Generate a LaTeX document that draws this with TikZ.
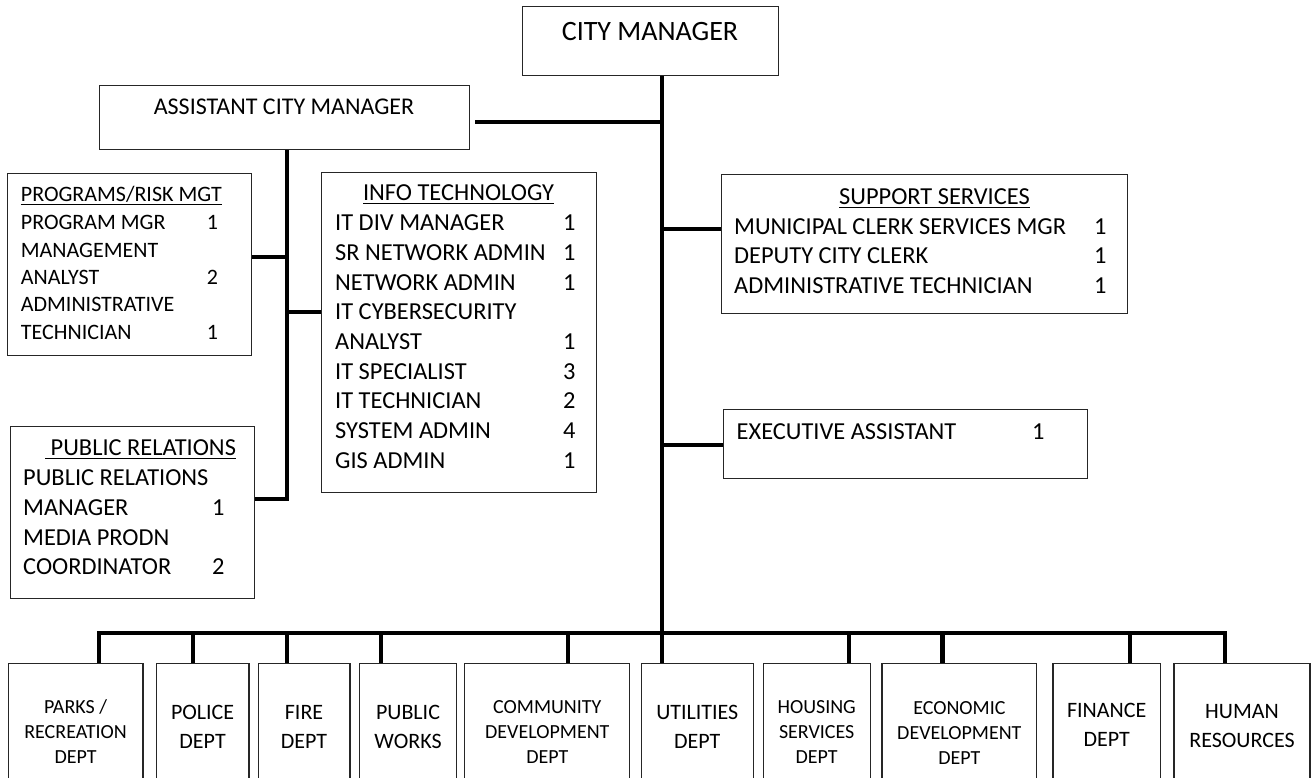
\documentclass[tikz,border=0pt]{standalone}
\usepackage{fontspec}
\setmainfont{Carlito}
\usepackage{array}
\newsavebox\hdrbox
% underlined heading with a rule a little below the baseline
\newcommand\hdrline[1]{\sbox\hdrbox{#1}\rlap{\rule[-3.5pt]{\wd\hdrbox}{1.5pt}}\usebox\hdrbox}
\tikzset{
  box/.style={draw=black!85, line width=1.2pt, rectangle, inner sep=0pt, anchor=north west},
  conn/.style={line width=4.5pt, black},
  txt/.style={inner sep=0pt, font=\fontsize{24.4}{29.7}\selectfont},
  small/.style={inner sep=0pt, font=\fontsize{20}{25}\selectfont},
  deptxt/.style={inner sep=0pt, font=\fontsize{22}{29}\selectfont, anchor=base},
}
\begin{document}
\begin{tikzpicture}[x=1pt,y=-1pt]
\clip (0,0) rectangle (1312,778);
\fill[white] (0,0) rectangle (1312,778);

% top management
\node[box, minimum width=256, minimum height=69] (city) at (522,6) {};
\node[inner sep=0pt, font=\fontsize{28}{34}\selectfont, anchor=base] (citytxt) at (650,40.5) {CITY MANAGER};
\node[box, minimum width=370, minimum height=64] (asst) at (99,85) {};
\node[inner sep=0pt, font=\fontsize{24}{29}\selectfont, anchor=base] (assttxt) at (284,114.6) {ASSISTANT CITY MANAGER};

% programs / risk management
\node[box, minimum width=244, minimum height=182] (prog) at (7,173) {};
\node[inner sep=0pt, font=\fontsize{22}{27.3}\selectfont, anchor=base west] (proghdr) at (20.7,202) {\hdrline{PROGRAMS/RISK MGT}};
\node[inner sep=0pt, font=\fontsize{22}{27.3}\selectfont, anchor=base west] (proglist) at (20.7,230)
  {\begin{tabular}[t]{@{}p{186pt}@{}l@{}}
   PROGRAM MGR & 1\\
   MANAGEMENT & \\
   ANALYST & 2\\
   ADMINISTRATIVE & \\
   TECHNICIAN & 1
   \end{tabular}};

% info technology
\node[box, minimum width=275, minimum height=320] (it) at (321,172) {};
\node[txt, anchor=base] (ithdr) at (458.5,200.7) {\hdrline{INFO TECHNOLOGY}};
\node[txt, anchor=base west] (itlist) at (335,230.7)
  {\begin{tabular}[t]{@{}p{228pt}@{}l@{}}
   IT DIV MANAGER & 1\\
   SR NETWORK ADMIN & 1\\
   NETWORK ADMIN & 1\\
   IT CYBERSECURITY & \\
   ANALYST & 1\\
   IT SPECIALIST & 3\\
   IT TECHNICIAN & 2\\
   SYSTEM ADMIN & 4\\
   GIS ADMIN & 1
   \end{tabular}};

% public relations
\node[box, minimum width=244, minimum height=172] (pr) at (10,426) {};
\node[txt, anchor=base west] (prhdr) at (45,455.7) {\hdrline{\ PUBLIC RELATIONS}};
\node[txt, anchor=base west] (prlist) at (23,485.7)
  {\begin{tabular}[t]{@{}p{189pt}@{}l@{}}
   PUBLIC RELATIONS & \\
   MANAGER & 1\\
   MEDIA PRODN & \\
   COORDINATOR & 2
   \end{tabular}};

% support services
\node[box, minimum width=406, minimum height=139] (supp) at (721,174) {};
\node[txt, anchor=base] (supphdr) at (934.5,204.7) {\hdrline{SUPPORT SERVICES}};
\node[inner sep=0pt, font=\fontsize{24.4}{29.3}\selectfont, anchor=base west] (supplist) at (734,234.7)
  {\begin{tabular}[t]{@{}p{360pt}@{}l@{}}
   MUNICIPAL CLERK SERVICES MGR & 1\\
   DEPUTY CITY CLERK & 1\\
   ADMINISTRATIVE TECHNICIAN & 1
   \end{tabular}};

% executive assistant
\node[box, minimum width=364, minimum height=69] (exec) at (723,409) {};
\node[txt, anchor=base west] (execlist) at (736.5,439.7)
  {\begin{tabular}[t]{@{}p{295.5pt}@{}l@{}}
   EXECUTIVE ASSISTANT & 1
   \end{tabular}};

% departments
\node[box, minimum width=134.7, minimum height=140] (parks) at (7.6,663) {};
\node[box, minimum width=92.6, minimum height=140] (police) at (155.7,663) {};
\node[box, minimum width=91.7, minimum height=140] (fire) at (257.6,663) {};
\node[box, minimum width=96.8, minimum height=140] (works) at (359,663) {};
\node[box, minimum width=165, minimum height=140] (comdev) at (464.2,663) {};
\node[box, minimum width=112, minimum height=140] (util) at (640.7,663) {};
\node[box, minimum width=106.8, minimum height=140] (housing) at (762.7,663) {};
\node[box, minimum width=154.9, minimum height=140] (econ) at (881.3,663) {};
\node[box, minimum width=107.6, minimum height=140] (finance) at (1052.3,663) {};
\node[box, minimum width=136, minimum height=140] (hr) at (1173.4,663) {};

\node[small, anchor=base] (parkstxt) at (parks.north |- 0,713.3)
  {\begin{tabular}[t]{@{}c@{}}PARKS /\\RECREATION\\DEPT\end{tabular}};
\node[deptxt] (policetxt) at (police.north |- 0,719)
  {\begin{tabular}[t]{@{}c@{}}POLICE\\DEPT\end{tabular}};
\node[deptxt] (firetxt) at (fire.north |- 0,719)
  {\begin{tabular}[t]{@{}c@{}}FIRE\\DEPT\end{tabular}};
\node[deptxt] (workstxt) at (works.north |- 0,719)
  {\begin{tabular}[t]{@{}c@{}}PUBLIC\\WORKS\end{tabular}};
\node[small, anchor=base] (comdevtxt) at (comdev.north |- 0,713.8)
  {\begin{tabular}[t]{@{}c@{}}COMMUNITY\\DEVELOPMENT\\DEPT\end{tabular}};
\node[deptxt] (utiltxt) at (util.north |- 0,719.5)
  {\begin{tabular}[t]{@{}c@{}}UTILITIES\\DEPT\end{tabular}};
\node[small, anchor=base] (housingtxt) at (housing.north |- 0,713.3)
  {\begin{tabular}[t]{@{}c@{}}HOUSING\\SERVICES\\DEPT\end{tabular}};
\node[small, anchor=base] (econtxt) at (econ.north |- 0,714)
  {\begin{tabular}[t]{@{}c@{}}ECONOMIC\\DEVELOPMENT\\DEPT\end{tabular}};
\node[deptxt] (financetxt) at (finance.north |- 0,717)
  {\begin{tabular}[t]{@{}c@{}}FINANCE\\DEPT\end{tabular}};
\node[deptxt] (hrtxt) at (hr.north |- 0,718.5)
  {\begin{tabular}[t]{@{}c@{}}HUMAN\\RESOURCES\end{tabular}};

% connectors: city manager trunk and side branches
\coordinate (trunk) at (662,633);
\coordinate (tasst) at (662,122);
\coordinate (tsupp) at (662,229);
\coordinate (texec) at (662,445);
\draw[conn] (trunk |- city.south) -- (trunk |- util.north);
\draw[conn, shorten >=5pt] (tasst) -- (tasst -| asst.east);
\draw[conn] (tsupp) -- (tsupp -| supp.west);
\draw[conn] (texec) -- (texec -| exec.west);

% assistant city manager branches
\coordinate (ax) at (287,499);
\coordinate (aprog) at (287,257);
\coordinate (ait) at (287,312);
\draw[conn] (ax |- asst.south) -- (ax) -- (ax -| pr.east);
\draw[conn] (aprog) -- (aprog -| prog.east);
\draw[conn] (ait) -- (ait -| it.west);

% department bus
\coordinate (d1) at (99,633);
\coordinate (d2) at (193,633);
\coordinate (d3) at (287,633);
\coordinate (d4) at (381,633);
\coordinate (d5) at (568,633);
\coordinate (d7) at (849,633);
\coordinate (d8) at (942.5,633);
\coordinate (d9) at (1130,633);
\coordinate (d10) at (1225,633);
\draw[conn] (d1 |- parks.north) -- (d1) -- (d10) -- (d10 |- hr.north);
\draw[conn] (d2) -- (d2 |- police.north);
\draw[conn] (d3) -- (d3 |- fire.north);
\draw[conn] (d4) -- (d4 |- works.north);
\draw[conn] (d5) -- (d5 |- comdev.north);
\draw[conn] (d7) -- (d7 |- housing.north);
\draw[conn] (d8) -- (d8 |- econ.north);
\draw[conn] (d9) -- (d9 |- finance.north);
\end{tikzpicture}
\end{document}
